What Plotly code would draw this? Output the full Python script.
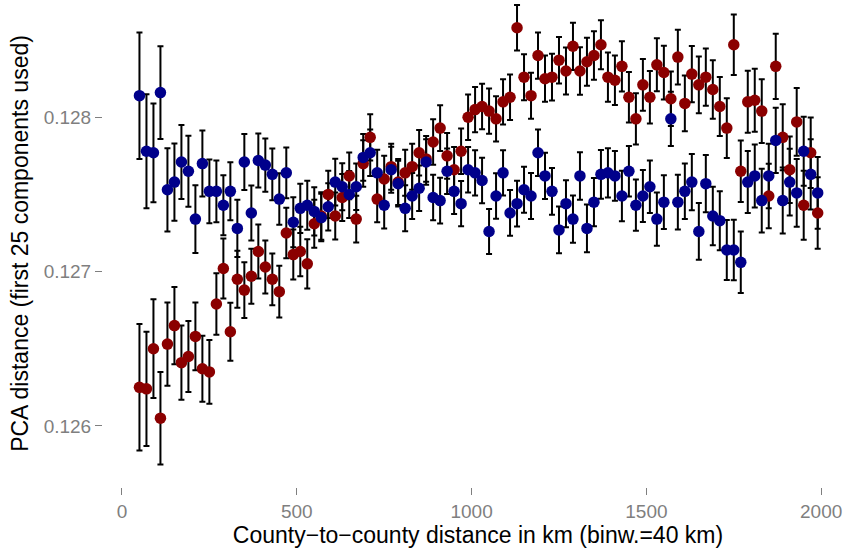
import plotly.graph_objects as go

# Bin centres (km), 20 km apart, bin width 40 km
distance_km = list(range(50, 2000, 20))

# Series values (PCA distance)
red_values = [
    0.12625, 0.12624, 0.12650, 0.12605, 0.12653, 0.12665, 0.12641, 0.12645, 0.12658, 0.12637,
    0.12635, 0.12679, 0.12702, 0.12661, 0.12695, 0.12688, 0.12697, 0.12713, 0.12703, 0.12695,
    0.12687, 0.12725, 0.12711, 0.12713, 0.12705, 0.12731, 0.12736, 0.12750, 0.12736, 0.12748,
    0.12762, 0.12734, 0.12770, 0.12787, 0.12747, 0.12760, 0.12768, 0.12758, 0.12764, 0.12768,
    0.12777, 0.12773, 0.12784, 0.12793, 0.12775, 0.12766, 0.12778, 0.12800, 0.12805, 0.12807,
    0.12804, 0.12799, 0.12810, 0.12813, 0.12858, 0.12826, 0.12814, 0.12840, 0.12825, 0.12826,
    0.12837, 0.12830, 0.12846, 0.12830, 0.12836, 0.12840, 0.12847, 0.12826, 0.12824, 0.12833,
    0.12813, 0.12799, 0.12821, 0.12813, 0.12834, 0.12829, 0.12812, 0.12839, 0.12809, 0.12828,
    0.12821, 0.12826, 0.12818, 0.12807, 0.12793, 0.12847, 0.12765, 0.12810, 0.12811, 0.12804,
    0.12749, 0.12833, 0.12787, 0.12766, 0.12797, 0.12743, 0.12777, 0.12738,
]

blue_values = [
    0.12814, 0.12778, 0.12777, 0.12816, 0.12753, 0.12758, 0.12771, 0.12765, 0.12734, 0.12770,
    0.12752, 0.12752, 0.12743, 0.12752, 0.12728, 0.12771, 0.12738, 0.12772, 0.12769, 0.12763,
    0.12747, 0.12764, 0.12732, 0.12741, 0.12743, 0.12739, 0.12735, 0.12742, 0.12758, 0.12755,
    0.12750, 0.12755, 0.12774, 0.12777, 0.12764, 0.12743, 0.12766, 0.12757, 0.12741, 0.12749,
    0.12754, 0.12771, 0.12748, 0.12746, 0.12765, 0.12752, 0.12744, 0.12766, 0.12764, 0.12759,
    0.12726, 0.12749, 0.12764, 0.12738, 0.12744, 0.12753, 0.12749, 0.12777, 0.12762, 0.12752,
    0.12727, 0.12744, 0.12734, 0.12762, 0.12728, 0.12745, 0.12763, 0.12764, 0.12762, 0.12749,
    0.12765, 0.12743, 0.12749, 0.12755, 0.12734, 0.12745, 0.12799, 0.12745, 0.12752, 0.12758,
    0.12726, 0.12757, 0.12736, 0.12733, 0.12714, 0.12714, 0.12706, 0.12758, 0.12762, 0.12746,
    0.12762, 0.12785, 0.12746, 0.12758, 0.12751, 0.12778, 0.12763, 0.12751,
]

# Half-widths of the error bars (same for both series)
error_half = [
    0.000410, 0.000370, 0.000320, 0.000300, 0.000270, 0.000250, 0.000240, 0.000230, 0.000220, 0.000214,
    0.000207, 0.000200, 0.000194, 0.000188, 0.000185, 0.000181, 0.000178, 0.000175, 0.000172, 0.000168,
    0.000167, 0.000164, 0.000162, 0.000160, 0.000159, 0.000156, 0.000154, 0.000153, 0.000152, 0.000152,
    0.000152, 0.000151, 0.000151, 0.000150, 0.000150, 0.000150, 0.000149, 0.000149, 0.000149, 0.000149,
    0.000148, 0.000148, 0.000148, 0.000148, 0.000148, 0.000147, 0.000147, 0.000147, 0.000147, 0.000147,
    0.000146, 0.000147, 0.000147, 0.000148, 0.000148, 0.000149, 0.000149, 0.000150, 0.000150, 0.000151,
    0.000151, 0.000152, 0.000153, 0.000154, 0.000155, 0.000157, 0.000158, 0.000160, 0.000161, 0.000163,
    0.000164, 0.000166, 0.000168, 0.000170, 0.000172, 0.000174, 0.000176, 0.000178, 0.000180, 0.000182,
    0.000184, 0.000186, 0.000189, 0.000191, 0.000194, 0.000196, 0.000199, 0.000201, 0.000204, 0.000206,
    0.000209, 0.000211, 0.000214, 0.000216, 0.000219, 0.000224, 0.000228, 0.000232,
]

x_tick_values = [0, 500, 1000, 1500, 2000]
x_tick_labels = ["0", "500", "1000", "1500", "2000"]
y_tick_values = [0.126, 0.127, 0.128]
y_tick_labels = ["0.126", "0.127", "0.128"]

RED = "#8B0000"
BLUE = "#00008B"
GREY = "#7F7F7F"
FONT = "Liberation Sans, Arial, Helvetica, sans-serif"

fig = go.Figure()

# error bars first (underneath the points)
for vals in (red_values, blue_values):
    fig.add_trace(go.Scatter(
        x=distance_km, y=vals, mode="markers",
        marker=dict(size=1, opacity=0),
        error_y=dict(type="data", array=error_half, visible=True,
                     color="black", thickness=2, width=3),
        hoverinfo="skip", showlegend=False,
    ))

fig.add_trace(go.Scatter(
    x=distance_km, y=red_values, mode="markers",
    marker=dict(size=11.5, color=RED, line=dict(width=0)),
    showlegend=False,
))
fig.add_trace(go.Scatter(
    x=distance_km, y=blue_values, mode="markers",
    marker=dict(size=11.5, color=BLUE, line=dict(width=0)),
    showlegend=False,
))

fig.update_layout(
    width=855, height=551,
    margin=dict(l=103, r=2, t=0, b=64),
    paper_bgcolor="white", plot_bgcolor="white",
    font=dict(family=FONT),
    xaxis=dict(
        range=[-54.3, 2091],
        tickmode="array", tickvals=x_tick_values, ticktext=x_tick_labels,
        ticks="outside", ticklen=7, tickwidth=1, tickcolor=GREY,
        tickfont=dict(size=19, color=GREY, family=FONT),
        showgrid=False, zeroline=False, showline=False,
        title=dict(text="County\u2212to\u2212county distance in km (binw.=40 km)",
                   font=dict(size=23, color="black", family=FONT), standoff=4),
        automargin=False,
    ),
    yaxis=dict(
        range=[0.125604, 0.128760],
        tickmode="array", tickvals=y_tick_values, ticktext=y_tick_labels,
        ticks="outside", ticklen=7, tickwidth=1, tickcolor=GREY,
        tickfont=dict(size=19, color=GREY, family=FONT),
        showgrid=False, zeroline=False, showline=False,
        title=dict(text="PCA distance (first 25 components used)",
                   font=dict(size=23, color="black", family=FONT), standoff=8),
        automargin=False,
    ),
)

fig.write_html("out.html", config={"displayModeBar": False},
               post_script="document.body.style.margin='0';")
